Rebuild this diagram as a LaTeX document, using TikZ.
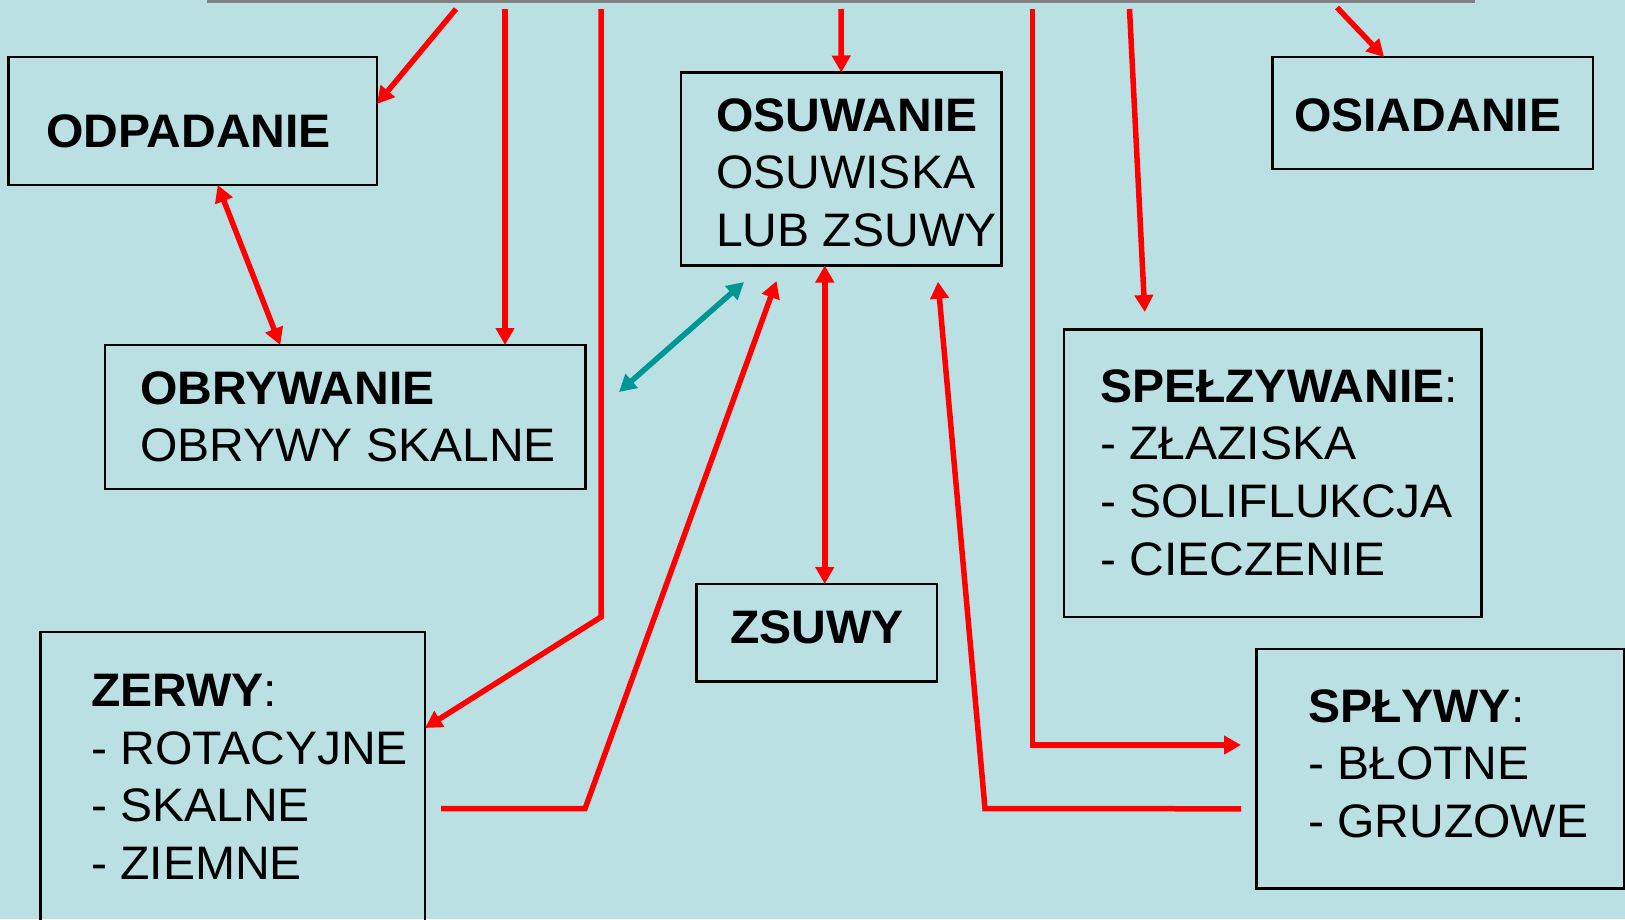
\documentclass[tikz,border=0pt]{standalone}
\usepackage{fontspec}
\setmainfont{Liberation Sans}[FakeStretch=1.023]
\usetikzlibrary{arrows.meta,calc}
\definecolor{bgc}{RGB}{186,224,227}
\definecolor{tealc}{RGB}{0,150,150}
\definecolor{grayc}{RGB}{128,128,128}
\begin{document}
\begin{tikzpicture}[x=1pt,y=-1pt,
  box/.style={draw=black,line width=2.5pt,rectangle,inner sep=0pt,outer sep=0pt,anchor=north west},
  txt/.style={anchor=base west,inner sep=0pt,outer sep=0pt,font=\fontsize{47}{57.5}\selectfont},
  arr/.style={draw=red,line width=5.5pt,-{Triangle[length=17pt,width=18pt]}},
  darr/.style={draw=red,line width=5.5pt,{Triangle[length=17pt,width=18pt]}-{Triangle[length=17pt,width=18pt]}},
  tarr/.style={draw=tealc,line width=5.5pt,{Triangle[length=17pt,width=18pt]}-{Triangle[length=17pt,width=18pt]}},
]
\useasboundingbox (0,0) rectangle (1625,919);
\clip (0,0) rectangle (1625,919);
\fill[bgc] (0,0) rectangle (1625,919);

% top bar
\coordinate (barL) at (207,1.5);
\coordinate (barR) at (1475,1.5);
\draw[grayc,line width=3.5pt] (barL) -- (barR);

% boxes
\node[box,minimum width=368.5pt,minimum height=128pt] (odp) at (8.5,57) {};
\node[box,minimum width=480.5pt,minimum height=144pt] (obr) at (105,345) {};
\node[box,minimum width=320.5pt,minimum height=193pt] (osu) at (681,72.5) {};
\node[box,minimum width=320.5pt,minimum height=112pt] (osi) at (1272.5,57) {};
\node[box,minimum width=417.5pt,minimum height=287.5pt] (spe) at (1064,329.5) {};
\node[box,minimum width=240.5pt,minimum height=97.5pt] (zsu) at (696.5,584) {};
\node[box,minimum width=384.5pt,minimum height=300pt] (zer) at (40.5,632) {};
\node[box,minimum width=368pt,minimum height=239.5pt] (spl) at (1256.5,649) {};

% texts
\node[txt] (odpT) at (46,147) {\textbf{ODPADANIE}};
\node[txt] (obrT1) at (140,404) {\textbf{OBRYWANIE}};
\node[txt] (obrT2) at (140,461) {OBRYWY SKALNE};
\node[txt] (osuT1) at (716,131) {\textbf{OSUWANIE}};
\node[txt] (osuT2) at (716,188.5) {OSUWISKA};
\node[txt] (osuT3) at (716,246) {LUB ZSUWY};
\node[txt] (osiT) at (1294,131) {\textbf{OSIADANIE}};
\node[txt] (speT1) at (1100,402) {\textbf{SPEŁZYWANIE}:};
\node[txt] (speT2) at (1100,459.5) {- ZŁAZISKA};
\node[txt] (speT3) at (1100,517) {- SOLIFLUKCJA};
\node[txt] (speT4) at (1100,575) {- CIECZENIE};
\node[txt] (zsuT) at (730,643.5) {\textbf{ZSUWY}};
\node[txt] (zerT1) at (91,706.5) {\textbf{ZERWY}:};
\node[txt] (zerT2) at (91,764) {- ROTACYJNE};
\node[txt] (zerT3) at (91,821.5) {- SKALNE};
\node[txt] (zerT4) at (91,879) {- ZIEMNE};
\node[txt] (splT1) at (1308,722) {\textbf{SPŁYWY}:};
\node[txt] (splT2) at (1308,779.5) {- BŁOTNE};
\node[txt] (splT3) at (1308,837) {- GRUZOWE};

% start points under the bar
\coordinate (s1) at (456,9);
\coordinate (s2) at (505,9);
\coordinate (s3) at (601,9);
\coordinate (s7) at (841,9);
\coordinate (s10) at (1032.6,9);
\coordinate (s11) at (1129.5,9);
\coordinate (s12) at (1337,7.5);
% corners
\coordinate (k3) at (601,617);
\coordinate (k6) at (585,808.7);
\coordinate (k9) at (985,808.7);
\coordinate (k10) at (1032.6,745);

% connectors
\draw[arr] (s1) -- ([yshift=17pt]odp.east);
\draw[arr] (s2) -- (s2 |- obr.north);
\draw[arr] (s3) -- (k3) -- ([yshift=-96pt]zer.north east);
\draw[darr] ([xshift=25pt]odp.south) -- ([xshift=-65pt]obr.north);
\draw[tarr] ([xshift=33.5pt,yshift=25pt]obr.east) -- ([xshift=-97.25pt,yshift=-16.5pt]osu.south);
\draw[arr] ([xshift=16pt,yshift=-176.7pt]zer.north east) -- (k6) -- ([xshift=-64.75pt,yshift=-15.5pt]osu.south);
\draw[arr] (s7) -- (osu.north);
\draw[darr] ([xshift=-16.5pt]osu.south) -- ([xshift=-16.5pt]osu.south |- zsu.north);
\draw[arr] ([xshift=-15.5pt,yshift=-40pt]spl.west) -- (k9) -- ([xshift=96.75pt,yshift=-16.2pt]osu.south);
\draw[arr] (s10) -- (k10) -- ([xshift=-15.5pt,yshift=23.75pt]spl.west);
\draw[arr] (s11) -- ([xshift=-128pt,yshift=17.5pt]spe.north);
\draw[arr] (s12) -- ([xshift=-48.75pt]osi.north);
\end{tikzpicture}
\end{document}
